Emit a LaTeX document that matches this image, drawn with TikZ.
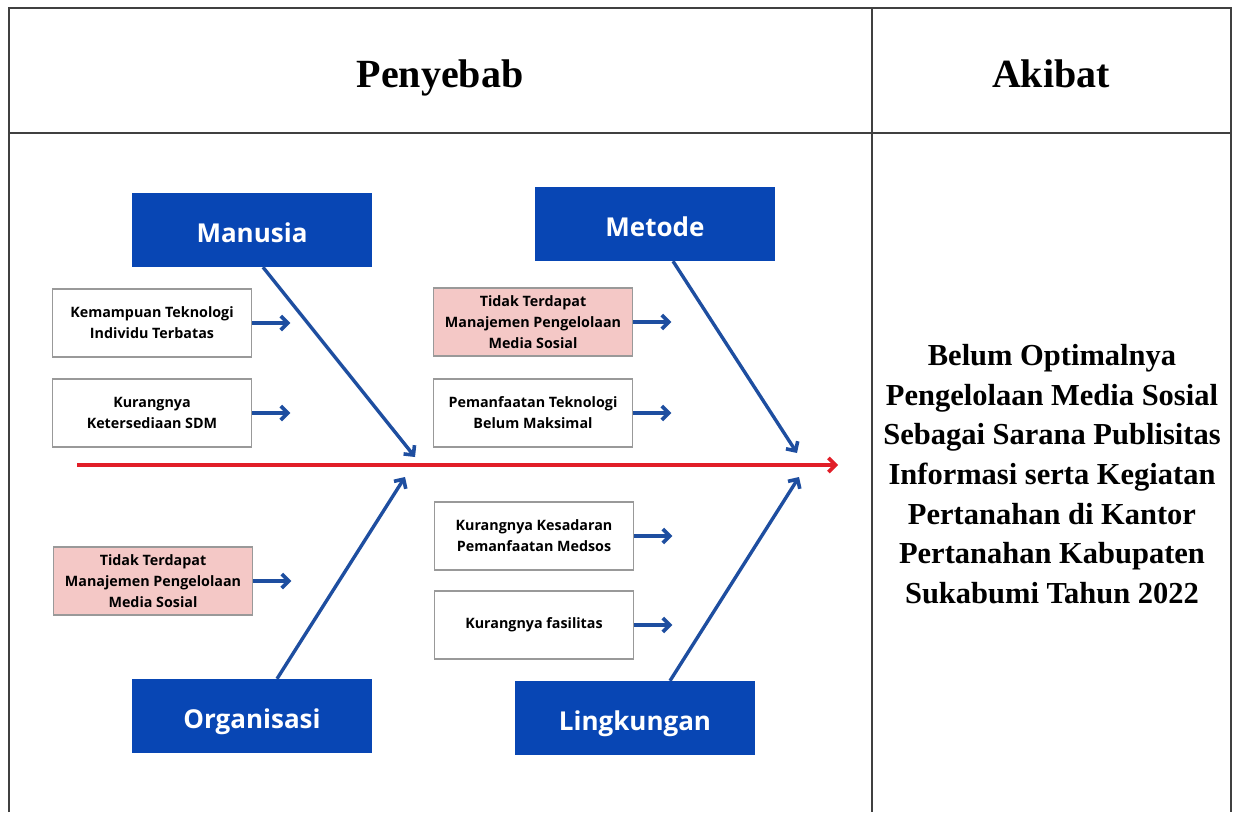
\documentclass[tikz,border=0pt]{standalone}
\usepackage{fontspec}
\setmainfont{Liberation Serif}
\newfontfamily\boxfont{Open Sans}
\usetikzlibrary{positioning,arrows.meta}
\definecolor{catblue}{RGB}{8,70,180}
\definecolor{bonblue}{RGB}{30,78,160}
\definecolor{spinered}{RGB}{225,30,40}
\definecolor{causepink}{RGB}{244,200,198}
\tikzset{
  >={Straight Barb[length=7pt, width=14pt, line width=3.6pt]},
  category/.style={fill=catblue, text=white, minimum width=240, minimum height=74,
    text height=25, text depth=0,
    font=\boxfont\bfseries\fontsize{26}{30}\selectfont},
  cause/.style={draw=gray!80, line width=1.6, fill=white, minimum width=199, minimum height=68,
    align=center, font=\boxfont\bfseries\fontsize{14.3}{21}\selectfont},
  bone/.style={->, line width=3.4, bonblue},
}

\begin{document}
\begin{tikzpicture}[x=1pt, y=-1pt]
\useasboundingbox (0,0) rectangle (1233,812);

% table
\draw[line width=1.8, black!75] (9,812) -- (9,8) -- (1231,8) -- (1231,812)
        (9,133) -- (1231,133)
        (872,8) -- (872,812);
\node[anchor=base] (penyebab) at (440,87) {\fontsize{40}{48}\selectfont\bfseries Penyebab};
\node[anchor=base] (akibat) at (1051,87) {\fontsize{40}{48}\selectfont\bfseries Akibat};
\node[align=center, font=\fontsize{30.5}{39.6}\selectfont\bfseries] (effect) at (1052,474)
  {Belum Optimalnya\\ Pengelolaan Media Sosial\\ Sebagai Sarana Publisitas\\
   Informasi serta Kegiatan\\ Pertanahan di Kantor\\ Pertanahan Kabupaten\\ Sukabumi Tahun 2022};

% categories
\node[category] (manusia) at (252,230) {Manusia};
\node[category] (metode) at (655,224) {Metode};
\node[category] (organisasi) at (252,716) {Organisasi};
\node[category] (lingkungan) at (635,718) {Lingkungan};

% causes
\node[cause] (kemampuan) at (152,323) {Kemampuan Teknologi\\Individu Terbatas};
\node[cause] (sdm) at (152,413) {Kurangnya\\Ketersediaan SDM};
\node[cause, fill=causepink] (manajemen) at (533,322) {Tidak Terdapat\\Manajemen Pengelolaan\\Media Sosial};
\node[cause] (pemanfaatan) at (533,413) {Pemanfaatan Teknologi\\Belum Maksimal};
\node[cause, fill=causepink] (organisasimj) at (153,581) {Tidak Terdapat\\Manajemen Pengelolaan\\Media Sosial};
\node[cause] (kesadaran) at (534,536) {Kurangnya Kesadaran\\Pemanfaatan Medsos};
\node[cause] (fasilitas) at (534,625) {Kurangnya fasilitas};

\foreach \c in {kemampuan,sdm,manajemen,pemanfaatan,organisasimj,kesadaran,fasilitas}
  \draw[bone] (\c.east) -- ++(38,0);

% spine
\coordinate (tail) at (77,465);
\coordinate (head) at (838,465);
\coordinate (m) at (415,457);
\coordinate (t) at (797,453);
\coordinate (o) at (405,477);
\coordinate (l) at (799,477);
\draw[->, line width=3.4, spinered] (tail) -- (head);
\draw[bone] ([xshift=11]manusia.south) -- (m);
\draw[bone] ([xshift=18]metode.south) -- (t);
\draw[bone] ([xshift=25]organisasi.north) -- (o);
\draw[bone] ([xshift=35]lingkungan.north) -- (l);
\end{tikzpicture}
\end{document}
